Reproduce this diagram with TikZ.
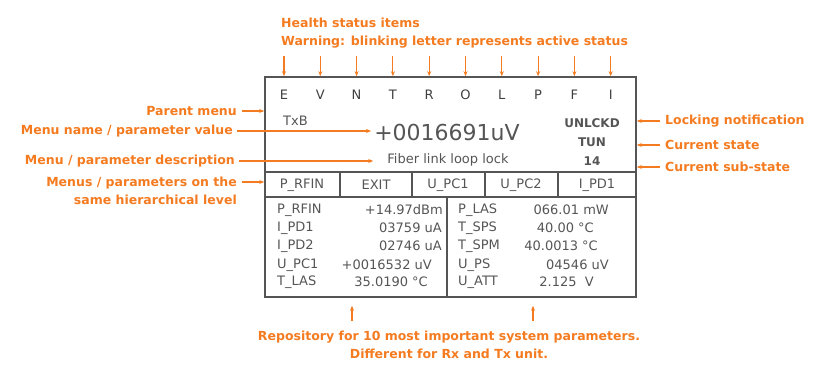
\documentclass[tikz,border=0pt]{standalone}
\usepackage{fontspec}
\setmainfont{DejaVu Sans}
\usepackage{xcolor}
\usepackage{tikz}
\usetikzlibrary{positioning, arrows.meta, calc}

\definecolor{noteorange}{RGB}{244,123,32}
\definecolor{lcdgray}{RGB}{85,85,85}

\tikzset{
  note/.style={text=noteorange, font=\bfseries\fontsize{12.5}{18}\selectfont, inner sep=0pt},
  pointer/.style={draw=noteorange, line width=1.1pt, -{Stealth[length=5pt,width=4pt]}},
  lcd/.style={text=lcdgray, font=\fontsize{13}{15}\selectfont, inner sep=0pt},
  frame/.style={draw=lcdgray, line width=1.6pt}
}

\begin{document}
\begin{tikzpicture}[x=1pt, y=-1pt]
          \useasboundingbox (0,0) rectangle (819,366);

          % display frame
          \node[frame, minimum width=371pt, minimum height=220pt, inner sep=0pt] (panel) at (450.5,187) {};
          \draw[frame] (265,172) -- (636,172);
          \draw[frame] (265,197) -- (636,197);
          \draw[frame] (340,172) -- (340,197);
          \draw[frame] (412,172) -- (412,197);
          \draw[frame] (485,172) -- (485,197);
          \draw[frame] (558,172) -- (558,197);
          \draw[frame] (447,197) -- (447,297);

          % health status letters
          \node[note, anchor=west] (health) at (281,23) {Health status items};
          \node[note, anchor=west] (warning) at (281,42) {Warning: blinking letter represents active status};
          \foreach \l [count=\i] in {E,V,N,T,R,O,L,P,F,I} {
            \node[lcd, text=black!75] (h\i) at ({247.7+36.3*\i},95) {\l};
            \coordinate (t\i) at ({247.7+36.3*\i},56);
            \draw[pointer] (t\i) -- (t\i |- panel.north);
          }

          % menu area
          \node[lcd, anchor=west] (parentmenu) at (283,121) {TxB};
          \node[lcd, font=\fontsize{22}{24}\selectfont, inner sep=3pt] (value) at (447,132) {+0016691uV};
          \node[lcd] (fiber) at (448,160) {Fiber link loop lock};
          \node[lcd, font=\bfseries\fontsize{12}{14}\selectfont] (lockstate) at (592,123) {UNLCKD};
          \node[lcd, font=\bfseries\fontsize{12}{14}\selectfont] (state) at (592,142) {TUN};
          \node[lcd, font=\bfseries\fontsize{12}{14}\selectfont] (substate) at (592,161) {14};

          % same level buttons
          \node[lcd] (b1) at (302,185) {P\_RFIN};
          \node[lcd] (b2) at (376,185) {EXIT};
          \node[lcd] (b3) at (448,185) {U\_PC1};
          \node[lcd] (b4) at (521,185) {U\_PC2};
          \node[lcd] (b5) at (597,185) {I\_PD1};

          % parameter repository
          \node[lcd, anchor=west] (pa1) at (277,210) {P\_RFIN};
          \node[lcd, anchor=west] (pa2) at (277,228) {I\_PD1};
          \node[lcd, anchor=west] (pa3) at (277,246) {I\_PD2};
          \node[lcd, anchor=west] (pa4) at (277,265) {U\_PC1};
          \node[lcd, anchor=west] (pa5) at (277,282) {T\_LAS};
          \node[lcd, anchor=east] (va1) at (443,210) {+14.97dBm};
          \node[lcd, anchor=east] (va2) at (442,228) {03759 uA};
          \node[lcd, anchor=east] (va3) at (442,246) {02746 uA};
          \node[lcd, anchor=east] (va4) at (432,265) {+0016532 uV};
          \node[lcd, anchor=east] (va5) at (428,282) {35.0190 °C};
          \node[lcd, anchor=west] (pb1) at (458,210) {P\_LAS};
          \node[lcd, anchor=west] (pb2) at (458,228) {T\_SPS};
          \node[lcd, anchor=west] (pb3) at (458,246) {T\_SPM};
          \node[lcd, anchor=west] (pb4) at (458,265) {U\_PS};
          \node[lcd, anchor=west] (pb5) at (458,282) {U\_ATT};
          \node[lcd, anchor=east] (vb1) at (609,210) {066.01 mW};
          \node[lcd, anchor=east] (vb2) at (594,228) {40.00 °C};
          \node[lcd, anchor=east] (vb3) at (598,246) {40.0013 °C};
          \node[lcd, anchor=east] (vb4) at (609,265) {04546 uV};
          \node[lcd, anchor=east] (vb5) at (594,282) {2.125~~V};

          % notes left
          \node[note, anchor=east] (parentnote) at (237,111) {Parent menu};
          \node[note, anchor=east] (namenote) at (233,131) {Menu name / parameter value};
          \node[note, anchor=east] (descnote) at (235,161) {Menu / parameter description};
          \node[note, anchor=east, align=right] (levelnote) at (237,191) {Menus / parameters on the\\same hierarchical level};
          \draw[pointer] ([xshift=5pt]parentnote.east) -- (parentnote.east -| panel.west);
          \draw[pointer] ([xshift=4pt]namenote.east) -- (namenote.east -| value.west);
          \draw[pointer] ([xshift=4pt]descnote.east) -- ([xshift=-14pt]descnote.east -| fiber.west);
          \draw[pointer] ([shift={(5pt,9pt)}]levelnote.east) -- ([yshift=9pt]levelnote.east -| panel.west);

          % notes right
          \node[note, anchor=west] (locknote) at (665,121) {Locking notification};
          \node[note, anchor=west] (statenote) at (665,145) {Current state};
          \node[note, anchor=west] (subnote) at (665,167) {Current sub-state};
          \draw[pointer] ([xshift=-5pt]locknote.west) -- (locknote.west -| panel.east);
          \draw[pointer] ([xshift=-5pt]statenote.west) -- (statenote.west -| panel.east);
          \draw[pointer] ([xshift=-5pt]subnote.west) -- (subnote.west -| panel.east);

          % notes bottom
          \node[note, align=center] (reponote) at (449,345) {Repository for 10 most important system parameters.\\Different for Rx and Tx unit.};
          \coordinate (r1) at (352,321);
          \coordinate (r2) at (533,321);
          \draw[pointer, shorten >=8pt] (r1) -- (r1 |- panel.south);
          \draw[pointer, shorten >=8pt] (r2) -- (r2 |- panel.south);
        \end{tikzpicture}
\end{document}
